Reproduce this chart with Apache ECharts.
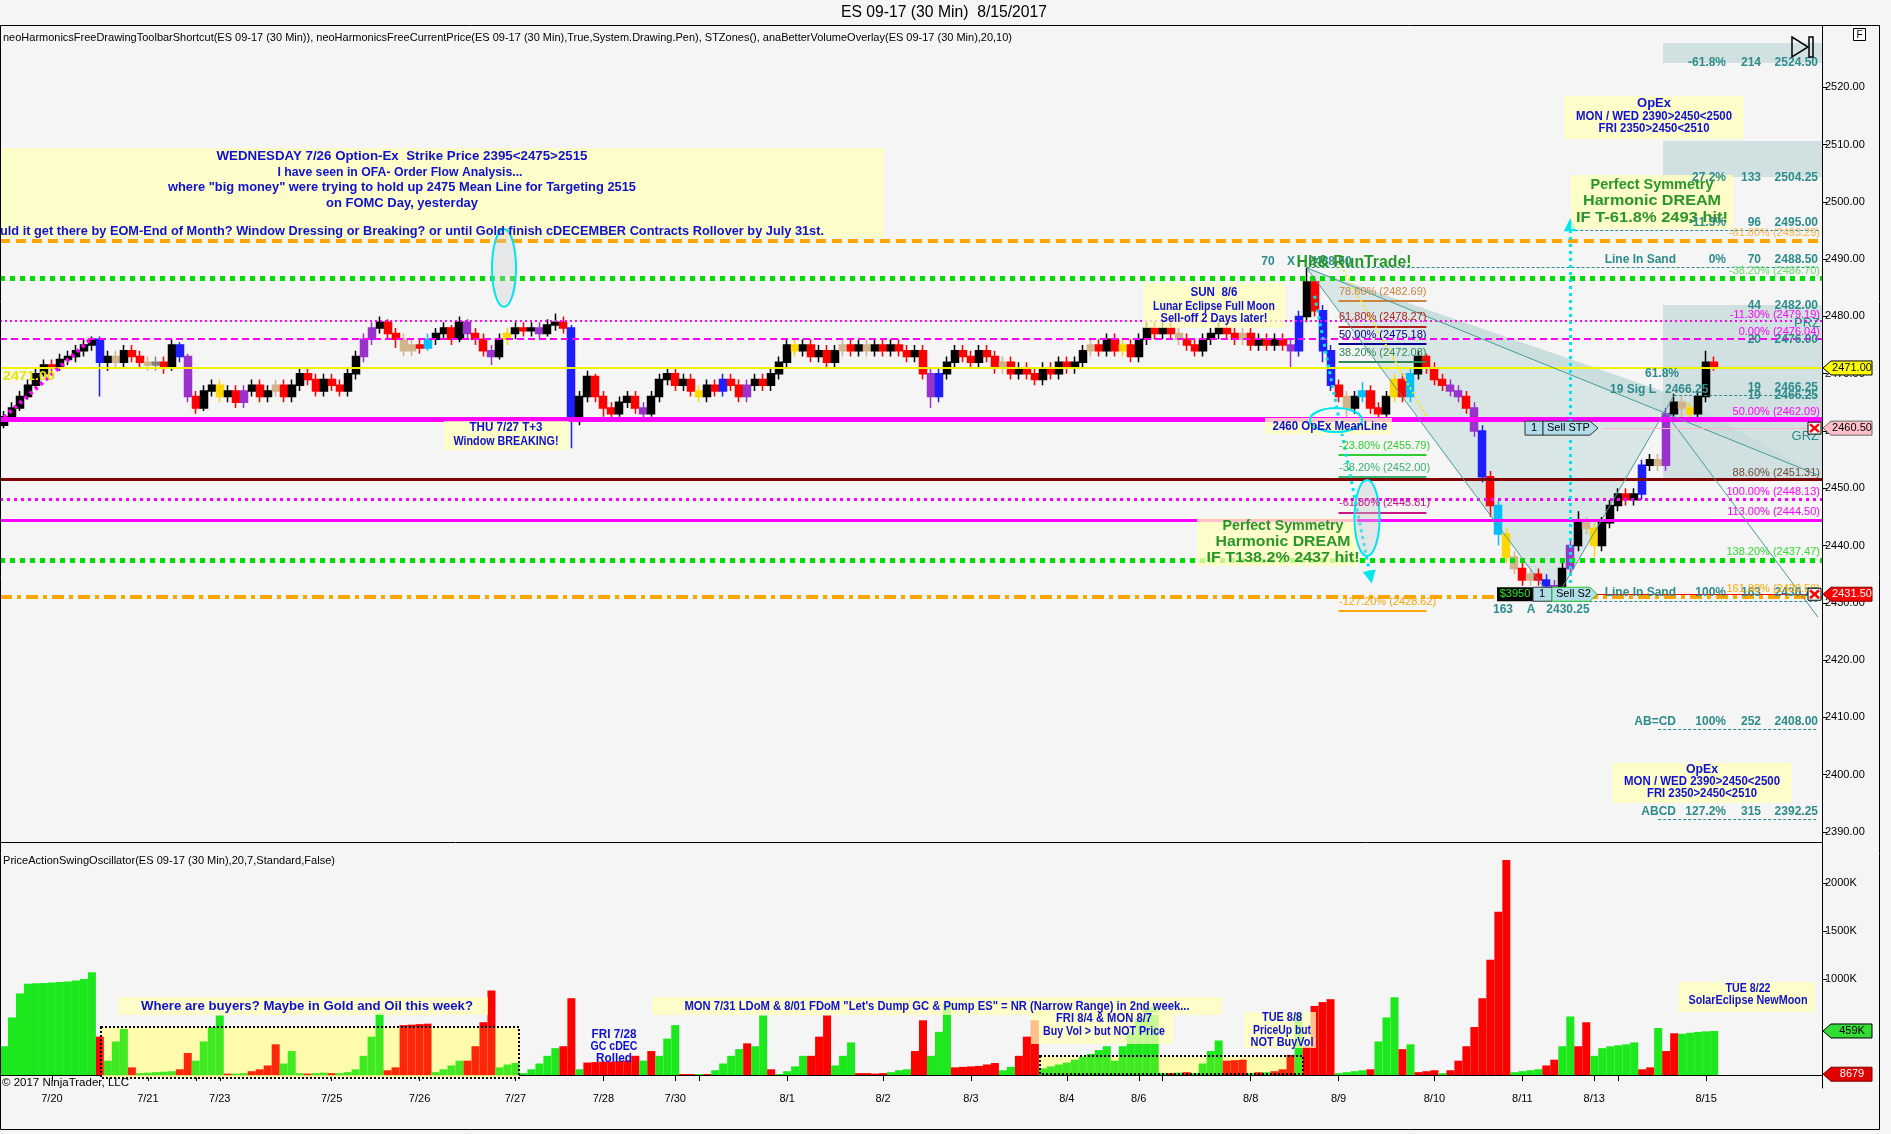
<!DOCTYPE html>
<html><head><meta charset="utf-8">
<script src="https://cdn.jsdelivr.net/npm/echarts@6/dist/echarts.min.js"></script>
<style>html,body{margin:0;padding:0;background:#F5F5F5;}#c{width:1891px;height:1134px;}</style>
</head><body><div id="c"></div>
<script>
// ---------------- DATA ----------------
const tickIdx    = [6,18,27,41,52,64,75,84,98,110,121,133,142,156,167,179,190,199,213];
const tickLabels = ['7/20','7/21','7/23','7/25','7/26','7/27','7/28','7/30','8/1','8/2','8/3','8/4','8/6','8/8','8/9','8/10','8/11','8/13','8/15'];
const extraTicks = [24,87,145,202];
const priceTicks = [2390,2400,2410,2420,2430,2440,2450,2460,2470,2480,2490,2500,2510,2520];
const oscTicks   = [1000,1500,2000];

// [open, close, low, high] per 2-hour block
const ohlc = [
[2461,2462.5,2460.5,2463.5],[2462.5,2464,2462,2465],[2464,2466,2463.5,2467],[2466,2468,2465.5,2469],[2468,2470,2467.5,2471],
[2470,2471.5,2469.5,2472.5],[2471.5,2471,2470,2472.5],[2471,2472.5,2470.5,2473.5],[2472.5,2473,2471.5,2474],[2473,2474,2472,2475],
[2474,2475,2473,2476],[2475,2476,2474,2476.5],[2476,2472,2466,2476.5],[2472,2473,2470.5,2474],[2473,2472,2471,2474],
[2472,2474,2471,2475],[2474,2473,2472,2475],[2473,2472,2471,2474],[2472,2471.5,2470.5,2473],[2471.5,2472,2470.5,2473],
[2472,2471,2470,2473],[2471,2475,2470.5,2476],[2475,2473,2472,2475.5],[2473,2466,2465,2473.5],[2466,2464,2463,2467],
[2464,2467,2463.5,2468],[2467,2468,2466,2469],[2468,2466,2465,2469],[2466,2467,2465,2468],[2467,2465,2464,2468],
[2465,2467,2464,2468],[2467,2468,2466,2469],[2468,2466,2465,2469],[2466,2467,2465,2468],[2467,2468,2466,2469],
[2468,2466,2465,2469],[2466,2468,2465,2469],[2468,2470,2467,2471],[2470,2469,2468,2471],[2469,2467,2466,2470],
[2467,2469,2466,2470],[2469,2468,2467,2470],[2468,2467,2466,2469],[2467,2470,2466,2471],[2470,2473,2469,2474],
[2473,2476,2472,2477],[2476,2478,2475,2479],[2478,2479,2477,2480],[2479,2477,2476,2479.5],[2477,2476,2474.5,2478],
[2476,2474,2473,2477],[2474,2475,2473,2476],[2475,2474.5,2473.5,2476],[2474.5,2476,2474,2477],[2476,2477,2475,2478],
[2477,2478,2476,2479],[2478,2476,2475,2478.5],[2476,2479,2475.5,2480],[2479,2477,2476,2479.5],[2477,2476,2475,2478],
[2476,2474,2473,2477],[2474,2473,2471.5,2475],[2473,2476,2472.5,2477],[2476,2477,2475,2478],[2477,2478,2476,2479],
[2478,2477.5,2476.5,2479],[2477.5,2478,2476.5,2479],[2478,2477,2476,2479],[2477,2478.5,2476.5,2479.5],[2478.5,2479,2477.5,2480.5],
[2479,2478,2477,2480],[2478,2462,2457,2478.5],[2462,2466,2461,2467],[2466,2469.5,2465,2470.5],[2469.5,2466,2465,2470],
[2466,2464,2462.5,2467],[2464,2463,2462,2465],[2463,2465,2462.5,2466],[2465,2466,2464,2467],[2466,2464,2463,2467],
[2464,2463,2462,2465],[2463,2466,2462.5,2467],[2466,2469,2465,2470],[2469,2470,2468,2471],[2470,2468,2467,2471],
[2468,2469,2467,2470],[2469,2467,2466,2470],[2467,2466,2465,2468],[2466,2468,2465,2469],[2468,2467,2466,2469],
[2467,2469,2466,2470],[2469,2468,2467,2470],[2468,2466,2465,2469],[2466,2468,2465,2469],[2468,2469,2467,2470],
[2469,2468,2467,2470],[2468,2470,2467,2471],[2470,2472,2469,2473],[2472,2475,2471,2476],[2475,2474,2473,2476],
[2474,2475,2473,2476],[2475,2473,2472,2476],[2473,2474,2472,2475],[2474,2472,2471,2475],[2472,2474,2471,2475],
[2474,2475,2473,2476],[2475,2474,2473,2476],[2474,2475,2473,2476],[2475,2474,2473,2476],[2474,2475,2473,2476],
[2475,2474,2473,2476],[2474,2475,2473,2476],[2475,2474,2473,2476],[2474,2473,2472,2475],[2473,2474,2472,2475],
[2474,2470,2469,2475],[2470,2466,2464,2471],[2466,2470,2465,2471],[2470,2472,2469,2473],[2472,2474,2471,2475],
[2474,2473,2472,2475],[2473,2472,2471,2474],[2472,2474,2471,2475],[2474,2473,2472,2475],[2473,2471,2470,2474],
[2471,2472,2470,2473],[2472,2470,2469,2473],[2470,2471,2469,2472],[2471,2470,2469,2472],[2470,2469,2468,2471],
[2469,2471,2468,2472],[2471,2470,2469,2472],[2470,2472,2469,2473],[2472,2471,2470,2473],[2471,2472,2470,2473],
[2472,2474,2471,2475],[2474,2475,2473,2476],[2475,2474,2473,2476],[2474,2476,2473,2477],[2476,2474,2473,2477],
[2474,2475,2473,2476],[2475,2473,2472,2476],[2473,2476,2472,2477],[2476,2478,2475,2479],[2478,2477,2476,2479],
[2477,2478,2476,2479],[2478,2477,2476,2479],[2477,2476,2475,2478],[2476,2475,2474,2477],[2475,2474,2473,2476],
[2474,2476,2473,2477],[2476,2477,2475,2478],[2477,2478,2476,2479],[2478,2477,2476,2479],[2477,2476,2475,2478],
[2476,2477,2475,2478],[2477,2475,2474,2478],[2475,2476,2474,2477],[2476,2475,2474,2477],[2475,2476,2474,2477],
[2476,2475,2474,2477],[2475,2474,2471,2476],[2474,2480,2473,2481],[2480,2486,2479,2488.5],[2486,2481,2480,2487],
[2481,2474,2472,2482],[2474,2468,2467,2475],[2468,2466,2465,2469],[2466,2464,2462.5,2467],[2464,2466,2463,2467],
[2466,2467,2465,2468.5],[2467,2464,2463,2468],[2464,2463,2462,2465],[2463,2466,2462.5,2467],[2466,2469,2465,2470],
[2469,2466,2465,2470],[2466,2470,2465,2471],[2470,2473,2469,2474],[2473,2471,2470,2473.5],[2471,2469,2468,2472],
[2469,2468,2467,2470],[2468,2467,2466,2469],[2467,2466,2465,2468],[2466,2464,2463,2467],[2464,2460,2459,2465],
[2460,2452,2451,2461],[2452,2447,2445,2453],[2447,2442,2440,2448],[2442,2438,2437,2443],[2438,2436,2435,2439],
[2436,2434,2433,2437],[2434,2435,2433,2436],[2435,2434,2433,2436],[2434,2433,2432,2435],[2433,2431,2430.25,2434],
[2431,2436,2430.5,2437],[2436,2440,2435,2441],[2440,2444,2439,2446],[2444,2443,2442,2445],[2443,2440,2438,2444],
[2440,2444,2439,2445],[2444,2447,2443,2448],[2447,2449,2446,2450],[2449,2448,2447,2450],[2448,2449,2447,2450],
[2449,2454,2448,2455],[2454,2455,2453,2456],[2455,2454,2453,2456],[2454,2463,2453,2464],[2463,2465,2462,2466.5],
[2465,2464,2462,2466],[2464,2463,2462,2465],[2463,2466,2462,2467],[2466,2472,2465,2474],[2472,2471,2470.5,2473]
];
// bar colour classes (anaBetterVolume) that differ from plain up/down
const barClass = {12:'b',14:'t',18:'t',19:'g',22:'b',23:'p',27:'y',30:'p',34:'t',45:'p',46:'p',50:'t',51:'t',53:'c',58:'p',61:'p',63:'y',67:'p',71:'b',80:'p',87:'y',90:'b',93:'p',99:'y',105:'t',108:'t',116:'p',117:'b',125:'t',136:'t',140:'y',147:'t',155:'t',161:'p',162:'b',165:'b',166:'b',168:'t',170:'c',174:'y',176:'c',181:'p',182:'p',184:'p',185:'b',187:'c',188:'y',189:'t',191:'t',193:'b',194:'p',196:'p',198:'t',199:'y',205:'b',207:'t',208:'p',210:'t',211:'y'};

// Price action swing oscillator (K)
const oscVals = [
300,600,850,950,955,960,965,970,975,985,
1000,1070,400,150,350,480,80,20,25,30,
35,40,60,230,150,350,500,620,15,15,
20,40,60,100,320,120,250,20,15,20,
25,20,20,30,60,200,400,640,50,80,
520,525,530,535,30,60,100,150,150,300,
550,880,80,110,125,20,60,120,200,280,
300,800,60,130,135,140,140,145,150,200,
150,250,200,380,520,10,10,10,10,50,
120,200,270,330,300,620,60,10,40,90,
200,200,400,620,100,200,340,20,20,15,
20,30,50,60,250,570,200,450,750,80,
85,90,95,110,125,50,85,200,400,570,
70,90,110,130,160,190,220,260,300,150,
300,450,600,700,710,20,20,25,30,20,
120,250,360,150,155,160,20,30,30,40,
60,210,650,300,720,760,790,20,30,40,
50,60,350,600,810,270,320,30,40,50,
20,50,150,300,500,800,1200,1700,2240,30,
40,50,60,100,160,300,610,300,550,200,
280,300,310,320,340,60,80,490,250,435,
430,440,450,455,459];
const oscDir = "gggggggggg"+"ggrgggrggg"+"ggrrggggrg"+"grrrrgggrg"+"grggggggrr"+"rrrrggggrr"+"rrgggggggg"+"rrgrrrrrrr"+"grgggrrgrg"+"gggrggrggg"+"grrrgggrrr"+"rgggrrgggr"+"rrrrrggrrr"+"gggggggggg"+"ggggggrgrg"+"gggrrrgrgr"+"rrgrrrrggg"+"grgggrgrrr"+"grrrrrrrrg"+"gggrrggrrg"+"gggggrrgrr"+"ggggg";

// horizontal levels
const levelPrices = [2493.29, 2486.70, 2479.19, 2476.04, 2471.00, 2462.09, 2451.50, 2448.13, 2444.50, 2437.47, 2431.00];
const sandPrices  = [2495.00, 2488.50, 2466.25, 2430.25, 2408.00, 2392.25];
const sandStart   = [196, 163, 209, 194, 207, 207];
const fibPrices   = [2482.69, 2478.27, 2475.18, 2472.08, 2455.79, 2452.00, 2445.81, 2428.62];
const fibLabels   = ['78.60% (2482.69)','61.80% (2478.27)','50.00% (2475.18)','38.20% (2472.08)','-23.80% (2455.79)','-38.20% (2452.00)','-61.80% (2445.81)','-127.20% (2428.62)'];
// harmonic pattern points [index, price]
const ptX = [163, 2488.5], ptA = [194, 2430.25], ptB = [209, 2466.25], ptP = [227, 2452.3], ptQ = [227, 2427.5];
const lastPrice = 2471.00, stopPrice = 2460.50, targetPrice = 2431.50;
const oscLast = 459, oscLast2 = 8.679;

// ---------------- STYLE ----------------
const FAM = '"Liberation Sans", Arial, sans-serif';
const BLUE = '#1010D0', TEAL = '#2E8B8B', GREEN_T = '#2A962A', MAG = '#FF00FF';
const YBOX = 'rgba(255,255,185,0.75)';
const palette = {r:'#FF0000', k:'#000000', b:'#1E1EFF', p:'#9933CC', t:'#D2B48C', g:'#808080', y:'#FFD700', c:'#00BFFF'};
const levelStyles = [
 {color:'#FFA500', width:4, type:[10,6]},
 {color:'#00DD00', width:5, type:[5,5]},
 {color:MAG, width:2, type:[2,3]},
 {color:MAG, width:2, type:[7,4]},
 {color:'#F2F200', width:2, type:'solid'},
 {color:MAG, width:5, type:'solid'},
 {color:'#800000', width:3, type:'solid'},
 {color:MAG, width:3, type:[3,4]},
 {color:MAG, width:3, type:'solid'},
 {color:'#00DD00', width:5, type:[5,5]},
 {color:'#FFA500', width:4, type:[12,5,4,5]}
];
const fibColors = ['#CD853F','#B22222','#00008B','#2E8B57','#32CD32','#3CB371','#C71585','#FFA500'];

const N = 228;
const cats = Array.from({length:N}, (_, i) => String(i));
const labelMap = {}; tickIdx.forEach((k, j) => labelMap[k] = tickLabels[j]);
const tickSet = new Set(tickIdx.concat(extraTicks));

const candleData = ohlc.map((r, i) => {
  const c = barClass[i] ? palette[barClass[i]] : (r[1] < r[0] ? palette.r : palette.k);
  return {value: r, itemStyle: {color: c, color0: c, borderColor: c, borderColor0: c, borderWidth: 1.5}};
});
const oscData = oscVals.map((v, i) => ({value: v, itemStyle: {color: oscDir[i] === 'g' ? '#1DE81D' : '#FF0000'}}));

const ml = [];
levelPrices.forEach((p, i) => ml.push({yAxis: p, lineStyle: levelStyles[i]}));
sandPrices.forEach((p, i) => ml.push([{coord: [sandStart[i], p], lineStyle: {color: TEAL, width: 1, type: [3, 2]}}, {coord: [227, p]}]));
fibPrices.forEach((p, i) => ml.push([{coord: [167, p], lineStyle: {color: fibColors[i], width: 2, type: 'solid'}}, {coord: [178, p]}]));
const seg = (a, b, st, sym) => ml.push([{coord: a, lineStyle: st, symbol: 'none'}, {coord: b, symbol: sym || 'none', symbolSize: 13}]);
seg(ptX, ptA, {color: '#4A9A9A', width: 1, type: 'solid'});
seg(ptA, ptB, {color: '#4A9A9A', width: 1, type: 'solid'});
seg(ptX, ptP, {color: '#4A9A9A', width: 1, type: 'solid'});
seg([208, 2463], ptQ, {color: '#4A9A9A', width: 1, type: 'solid'});
seg([0, 2462.4], [11, 2476.2], {color: MAG, width: 4, type: [3, 4]});
seg([167, 2489.6], [178, 2462.5], {color: '#FFE800', width: 2, type: [2, 3]});
seg([164, 2483.6], [171, 2434.5], {color: '#00E5EE', width: 3, type: [3, 4]}, 'triangle');
seg([196, 2431], [196, 2496], {color: '#00E5EE', width: 3, type: [3, 4]}, 'triangle');
seg([198, targetPrice], [227, targetPrice], {color: '#FF0000', width: 1, type: 'solid'});
seg([200, stopPrice], [227, stopPrice], {color: '#FFB6C1', width: 1, type: 'solid'});

const option = {
  animation: false,
  backgroundColor: '#F5F5F5',
  textStyle: {fontFamily: FAM},
  grid: [
    {left: 0, top: 26, width: 1822, height: 816, outerBoundsMode: 'none'},
    {left: 0, top: 843, width: 1822, height: 245, outerBoundsMode: 'none'}
  ],
  xAxis: [
    {type: 'category', gridIndex: 0, data: cats, boundaryGap: true, show: false},
    {type: 'category', gridIndex: 1, data: cats, boundaryGap: true,
     axisLine: {show: true, lineStyle: {color: '#000'}},
     axisTick: {show: true, alignWithLabel: true, interval: (i) => tickSet.has(i), length: 6, lineStyle: {color: '#000'}},
     axisLabel: {interval: (i) => labelMap[i] !== undefined, formatter: (v, i) => labelMap[i] || '', color: '#000', fontSize: 11, fontFamily: FAM, margin: 5},
     splitLine: {show: false}}
  ],
  yAxis: [
    {type: 'value', gridIndex: 0, position: 'right', min: 2388.25, max: 2530.7, scale: true,
     axisLine: {show: true, lineStyle: {color: '#000'}},
     axisTick: {show: true, customValues: priceTicks, length: 5, lineStyle: {color: '#000'}},
     axisLabel: {customValues: priceTicks, formatter: (v) => v.toFixed(2), color: '#000', fontSize: 11, fontFamily: FAM, margin: 3},
     splitLine: {show: false}},
    {type: 'value', gridIndex: 1, position: 'right', min: -135, max: 2417,
     axisLine: {show: true, lineStyle: {color: '#000'}},
     axisTick: {show: true, customValues: oscTicks, length: 5, lineStyle: {color: '#000'}},
     axisLabel: {customValues: oscTicks, formatter: (v) => v + 'K', color: '#000', fontSize: 11, fontFamily: FAM, margin: 3},
     splitLine: {show: false}}
  ],
  series: [
    {type: 'candlestick', xAxisIndex: 0, yAxisIndex: 0, barWidth: '94%', data: candleData, z: 3,
     markLine: {silent: true, symbol: ['none', 'none'], label: {show: false}, animation: false, data: ml}},
    {type: 'bar', xAxisIndex: 1, yAxisIndex: 1, barCategoryGap: '0%', barGap: '0%', data: oscData, z: 3}
  ]
};

const chart = echarts.init(document.getElementById('c'), null, {renderer: 'canvas', width: 1891, height: 1134});
chart.setOption(option);

// ---------------- ANNOTATIONS ----------------
const mctx = document.createElement('canvas').getContext('2d');
function txt(str, x, y, o) {
  o = o || {};
  const size = o.size || 11, weight = o.weight || 'normal';
  const font = weight + ' ' + size + 'px ' + FAM;
  let sx = 1;
  if (o.w) { mctx.font = font; sx = o.w / mctx.measureText(str).width; }
  return {type: 'text', x: x, y: y, scaleX: sx, z: o.z || 110, silent: true,
          style: {text: str, font: font, fill: o.color || '#000', align: o.align || 'left', verticalAlign: 'middle'}};
}
function box(x, y, w, h, fill, extra) {
  return Object.assign({type: 'rect', z: 105, silent: true, shape: {x: x, y: y, width: w, height: h}, style: {fill: fill}}, extra || {});
}
const P = (pt) => chart.convertToPixel({gridIndex: 0}, pt);
const py = (p) => chart.convertToPixel({yAxisIndex: 0}, p);
const py2 = (v) => chart.convertToPixel({yAxisIndex: 1}, v);

const G = [];
// frame
G.push({type: 'rect', z: 120, silent: true, shape: {x: 0.5, y: 25.5, width: 1879, height: 1104}, style: {fill: 'none', stroke: '#000', lineWidth: 1}});
G.push({type: 'line', z: 120, silent: true, shape: {x1: 0, y1: 842.5, x2: 1822, y2: 842.5}, style: {stroke: '#000', lineWidth: 1}});
// title and indicator captions
G.push(txt('ES 09-17 (30 Min)  8/15/2017', 944, 13, {size: 16, w: 206, align: 'center'}));
G.push(txt('neoHarmonicsFreeDrawingToolbarShortcut(ES 09-17 (30 Min)), neoHarmonicsFreeCurrentPrice(ES 09-17 (30 Min),True,System.Drawing.Pen), STZones(), anaBetterVolumeOverlay(ES 09-17 (30 Min),20,10)', 3, 38, {size: 11, w: 1009}));
G.push(txt('PriceActionSwingOscillator(ES 09-17 (30 Min),20,7,Standard,False)', 3, 861, {size: 11, w: 332}));
G.push(txt('\u00A9 2017 NinjaTrader, LLC', 2, 1083, {size: 11, w: 127}));

// pattern shading & zone boxes (behind bars)
G.push({type: 'polygon', z: 1, silent: true, shape: {points: [P(ptX), P(ptA), P(ptB)]}, style: {fill: 'rgba(160,200,200,0.32)'}});
G.push({type: 'polygon', z: 1, silent: true, shape: {points: [P(ptX), P(ptB), P(ptP)]}, style: {fill: 'rgba(160,200,200,0.25)'}});
G.push(box(1663, 43, 159, 20, 'rgba(185,212,212,0.6)', {z: 1}));
G.push(box(1663, 141, 159, 36, 'rgba(185,212,212,0.6)', {z: 1}));
G.push(box(1663, py(2482), 159, py(2451.5) - py(2482), 'rgba(185,212,212,0.6)', {z: 1}));

// big top-left note
G.push(box(0, 148, 884, 90, YBOX));
G.push(txt('WEDNESDAY 7/26 Option-Ex  Strike Price 2395<2475>2515', 402, 156, {size: 13, weight: 'bold', color: BLUE, align: 'center', w: 371}));
G.push(txt('I have seen in OFA- Order Flow Analysis...', 400, 172, {size: 13, weight: 'bold', color: BLUE, align: 'center', w: 245}));
G.push(txt('where "big money" were trying to hold up 2475 Mean Line for Targeting 2515', 402, 187, {size: 13, weight: 'bold', color: BLUE, align: 'center', w: 468}));
G.push(txt('on FOMC Day, yesterday', 402, 203, {size: 13, weight: 'bold', color: BLUE, align: 'center', w: 152}));
G.push(txt('uld it get there by EOM-End of Month? Window Dressing or Breaking? or until Gold finish cDECEMBER Contracts Rollover by July 31st.', 0, 231, {size: 13, weight: 'bold', color: BLUE, w: 824}));
G.push({type: 'ellipse', z: 108, silent: true, shape: {cx: 504, cy: 268, rx: 12, ry: 39}, style: {fill: 'rgba(200,205,210,0.35)', stroke: '#00E5EE', lineWidth: 2}});

G.push(txt('2471.00', 3, 377, {size: 12, weight: 'bold', color: '#E6E600', w: 52}));
G.push(box(444, 421, 125, 29, YBOX));
G.push(txt('THU 7/27 T+3', 506, 428, {size: 12, weight: 'bold', color: BLUE, align: 'center', w: 73}));
G.push(txt('Window BREAKING!', 506, 442, {size: 12, weight: 'bold', color: BLUE, align: 'center', w: 105}));

G.push(box(1143, 283, 142, 45, YBOX));
G.push(txt('SUN  8/6', 1214, 293, {size: 12, weight: 'bold', color: BLUE, align: 'center', w: 47}));
G.push(txt('Lunar Eclipse Full Moon', 1214, 307, {size: 12, weight: 'bold', color: BLUE, align: 'center', w: 122}));
G.push(txt('Sell-off 2 Days later!', 1214, 319, {size: 12, weight: 'bold', color: BLUE, align: 'center', w: 107}));
G.push(box(1265, 418, 127, 16, YBOX));
G.push(txt('2460 OpEx MeanLine', 1330, 426, {size: 13, weight: 'bold', color: BLUE, align: 'center', w: 115}));
G.push({type: 'ellipse', z: 108, silent: true, shape: {cx: 1336, cy: 420, rx: 26, ry: 12}, style: {fill: 'none', stroke: '#00E5EE', lineWidth: 2}});

G.push(txt('70', 1268, 262, {size: 12, weight: 'bold', color: TEAL, align: 'center'}));
G.push(txt('X', 1291, 262, {size: 12, weight: 'bold', color: TEAL, align: 'center'}));
G.push(txt('2488.50', 1330, 262, {size: 12, weight: 'bold', color: TEAL, align: 'center'}));
G.push(txt('Hit& RunTrade!', 1354, 263, {size: 16, weight: 'bold', color: GREEN_T, align: 'center', w: 115}));

fibPrices.forEach((p, i) => G.push(txt(fibLabels[i], 1339, py(p) - 9, {size: 11, color: fibColors[i]})));

G.push({type: 'ellipse', z: 108, silent: true, shape: {cx: 1367, cy: 518, rx: 12.5, ry: 38}, style: {fill: 'rgba(200,205,210,0.4)', stroke: '#00E5EE', lineWidth: 2}});
G.push(box(1197, 518, 160, 48, YBOX));
G.push(txt('Perfect Symmetry', 1283, 526, {size: 15, weight: 'bold', color: GREEN_T, align: 'center', w: 121}));
G.push(txt('Harmonic DREAM', 1283, 542, {size: 15, weight: 'bold', color: GREEN_T, align: 'center', w: 135}));
G.push(txt('IF T138.2% 2437 hit!', 1283, 558, {size: 15, weight: 'bold', color: GREEN_T, align: 'center', w: 153}));

G.push(box(1571, 175, 162, 54, YBOX));
G.push(txt('Perfect Symmetry', 1652, 185, {size: 15, weight: 'bold', color: GREEN_T, align: 'center', w: 123}));
G.push(txt('Harmonic DREAM', 1652, 201, {size: 15, weight: 'bold', color: GREEN_T, align: 'center', w: 138}));
G.push(txt('IF T-61.8% 2493 hit!', 1652, 218, {size: 15, weight: 'bold', color: GREEN_T, align: 'center', w: 152}));

G.push(box(1564, 96, 180, 43, YBOX));
G.push(txt('OpEx', 1654, 104, {size: 12, weight: 'bold', color: BLUE, align: 'center', w: 34}));
G.push(txt('MON / WED 2390>2450<2500', 1654, 117, {size: 12, weight: 'bold', color: BLUE, align: 'center', w: 156}));
G.push(txt('FRI 2350>2450<2510', 1654, 129, {size: 12, weight: 'bold', color: BLUE, align: 'center', w: 111}));
G.push(box(1612, 763, 180, 40, YBOX));
G.push(txt('OpEx', 1702, 770, {size: 12, weight: 'bold', color: BLUE, align: 'center', w: 32}));
G.push(txt('MON / WED 2390>2450<2500', 1702, 782, {size: 12, weight: 'bold', color: BLUE, align: 'center', w: 156}));
G.push(txt('FRI 2350>2450<2510', 1702, 794, {size: 12, weight: 'bold', color: BLUE, align: 'center', w: 110}));

// right-hand harmonic table
const rows = [
  [63, '', '-61.8%', '214', '2524.50'],
  [178, '', '27.2%', '133', '2504.25'],
  [223, '', '-11.3%', '96', '2495.00'],
  [260, 'Line In Sand', '0%', '70', '2488.50'],
  [306, '', '', '44', '2482.00'],
  [340, '', '', '20', '2476.00'],
  [388, '', '', '19', '2466.25'],
  [396, '', '', '19', '2466.25'],
  [593, 'Line In Sand', '100%', '163', '2430.25'],
  [722, 'AB=CD', '100%', '252', '2408.00'],
  [812, 'ABCD', '127.2%', '315', '2392.25']
];
const colR = [1676, 1726, 1761, 1818];
rows.forEach(r => { for (let k = 1; k <= 4; k++) if (r[k]) G.push(txt(r[k], colR[k - 1], r[0], {size: 12, weight: 'bold', color: TEAL, align: 'right'})); });
const small = [
  [233, '-61.80% (2493.29)', '#FFB347'], [271, '-38.20% (2486.70)', '#66DD66'], [315, '-11.30% (2479.19)', MAG],
  [332, '0.00% (2476.04)', MAG], [412, '50.00% (2462.09)', MAG], [473, '88.60% (2451.31)', '#6E4B3A'],
  [492, '100.00% (2448.13)', MAG], [512, '113.00% (2444.50)', MAG], [552, '138.20% (2437.47)', '#33DD33'],
  [589, '161.80% (2430.56)', '#FFA500']
];
small.forEach(s => G.push(txt(s[1], 1820, s[0], {size: 11, color: s[2], align: 'right'})));
G.push(txt('PRZ', 1820, 323, {size: 13, color: TEAL, align: 'right'}));
G.push(txt('GRZ', 1819, 436, {size: 13, color: TEAL, align: 'right'}));
G.push(txt('61.8%', 1662, 374, {size: 12, weight: 'bold', color: TEAL, align: 'center'}));
G.push(txt('19 Sig L', 1656, 390, {size: 12, weight: 'bold', color: TEAL, align: 'right'}));
G.push(txt('2466.25', 1665, 390, {size: 12, weight: 'bold', color: TEAL}));
G.push(txt('163', 1503, 610, {size: 12, weight: 'bold', color: TEAL, align: 'center'}));
G.push(txt('A', 1531, 610, {size: 12, weight: 'bold', color: TEAL, align: 'center'}));
G.push(txt('2430.25', 1568, 610, {size: 12, weight: 'bold', color: TEAL, align: 'center'}));

// order tags
const ys = py(stopPrice), yt = py(targetPrice);
G.push(box(1525, ys - 7, 18, 14, '#B0DDE8', {style: {fill: '#B0DDE8', stroke: '#333', lineWidth: 1}}));
G.push({type: 'polygon', z: 105, silent: true, shape: {points: [[1543, ys - 7], [1590, ys - 7], [1598, ys], [1590, ys + 7], [1543, ys + 7]]}, style: {fill: '#B0DDE8', stroke: '#333', lineWidth: 1}});
G.push(txt('1', 1534, ys, {size: 11, align: 'center'}));
G.push(txt('Sell STP', 1547, ys, {size: 11}));
G.push(box(1497, yt - 7, 36, 14, '#000'));
G.push(txt('$3950', 1515, yt, {size: 11, color: '#22EE22', align: 'center'}));
G.push(box(1533, yt - 7, 19, 14, '#B0DDE8', {style: {fill: '#B0DDE8', stroke: '#333', lineWidth: 1}}));
G.push({type: 'polygon', z: 105, silent: true, shape: {points: [[1552, yt - 7], [1590, yt - 7], [1597, yt], [1590, yt + 7], [1552, yt + 7]]}, style: {fill: '#B0DDE8', stroke: '#22CC22', lineWidth: 1}});
G.push(txt('1', 1542, yt, {size: 11, align: 'center'}));
G.push(txt('Sell S2', 1556, yt, {size: 11}));

// price axis tags
function tag(y, text, fill, tcol, stroke) {
  G.push({type: 'polygon', z: 115, silent: true, shape: {points: [[1823, y], [1831, y - 7], [1872, y - 7], [1872, y + 7], [1831, y + 7]]}, style: {fill: fill, stroke: stroke || '#000', lineWidth: 1}});
  G.push(txt(text, 1852, y, {size: 11, color: tcol, align: 'center', z: 116}));
}
function xbox(y) {
  G.push({type: 'rect', z: 115, silent: true, shape: {x: 1808, y: y - 6, width: 13, height: 12}, style: {fill: '#fff', stroke: '#000', lineWidth: 1}});
  G.push({type: 'line', z: 116, silent: true, shape: {x1: 1810, y1: y - 4, x2: 1819, y2: y + 4}, style: {stroke: '#FF0000', lineWidth: 2.5}});
  G.push({type: 'line', z: 116, silent: true, shape: {x1: 1819, y1: y - 4, x2: 1810, y2: y + 4}, style: {stroke: '#FF0000', lineWidth: 2.5}});
}
tag(py(lastPrice), lastPrice.toFixed(2), '#FFFF00', '#000');
tag(ys, stopPrice.toFixed(2), '#FFC0CB', '#000', '#666');
tag(yt, targetPrice.toFixed(2), '#FF0000', '#fff', '#800000');
xbox(ys); xbox(yt);
tag(py2(oscLast), oscLast + 'K', '#33DD33', '#000');
tag(py2(oscLast2), '8679', '#E00000', '#fff', '#800000');

// top-right icons
G.push({type: 'polygon', z: 115, silent: true, shape: {points: [[1792, 37], [1808, 47], [1792, 57]]}, style: {fill: 'none', stroke: '#000', lineWidth: 1.5}});
G.push({type: 'rect', z: 115, silent: true, shape: {x: 1809, y: 37, width: 4, height: 20}, style: {fill: 'none', stroke: '#000', lineWidth: 1.5}});
G.push({type: 'rect', z: 115, silent: true, shape: {x: 1853.5, y: 28.5, width: 12, height: 12}, style: {fill: '#fff', stroke: '#000', lineWidth: 1}});
G.push(txt('F', 1859.5, 35, {size: 10, align: 'center', z: 116}));

// lower panel notes: pale yellow behind bars, light tint + dotted frame on top
G.push(box(101, 1027, 418, 51, 'rgba(255,255,185,0.85)', {z: 1}));
G.push(box(1040, 1056, 263, 18, 'rgba(255,255,185,0.85)', {z: 1}));
const DOT = 'rgba(255,240,60,0.16)';
G.push(box(101, 1027, 418, 51, DOT, {style: {fill: DOT, stroke: '#000', lineWidth: 2, lineDash: [2, 2]}}));
G.push(box(1040, 1056, 263, 18, DOT, {style: {fill: DOT, stroke: '#000', lineWidth: 2, lineDash: [2, 2]}}));
G.push(box(118, 997, 370, 18, YBOX));
G.push(txt('Where are buyers? Maybe in Gold and Oil this week?', 307, 1006, {size: 13, weight: 'bold', color: BLUE, align: 'center', w: 332}));
G.push(txt('FRI 7/28', 614, 1035, {size: 12, weight: 'bold', color: BLUE, align: 'center', w: 45}));
G.push(txt('GC cDEC', 614, 1047, {size: 12, weight: 'bold', color: BLUE, align: 'center', w: 47}));
G.push(txt('Rolled', 614, 1059, {size: 12, weight: 'bold', color: BLUE, align: 'center', w: 36}));
G.push(box(652, 997, 570, 18, YBOX));
G.push(txt('MON 7/31 LDoM & 8/01 FDoM "Let\'s Dump GC & Pump ES" = NR (Narrow Range) in 2nd week...', 937, 1006, {size: 13, weight: 'bold', color: BLUE, align: 'center', w: 505}));
G.push(box(1031, 1012, 142, 32, YBOX));
G.push(txt('FRI 8/4 & MON 8/7', 1104, 1019, {size: 12, weight: 'bold', color: BLUE, align: 'center', w: 96}));
G.push(txt('Buy Vol > but NOT Price', 1104, 1032, {size: 12, weight: 'bold', color: BLUE, align: 'center', w: 122}));
G.push(box(1244, 1012, 72, 36, YBOX));
G.push(txt('TUE 8/8', 1282, 1018, {size: 12, weight: 'bold', color: BLUE, align: 'center', w: 40}));
G.push(txt('PriceUp but', 1282, 1031, {size: 12, weight: 'bold', color: BLUE, align: 'center', w: 58}));
G.push(txt('NOT BuyVol', 1282, 1043, {size: 12, weight: 'bold', color: BLUE, align: 'center', w: 63}));
G.push(box(1678, 982, 137, 30, YBOX));
G.push(txt('TUE 8/22', 1748, 989, {size: 12, weight: 'bold', color: BLUE, align: 'center', w: 45}));
G.push(txt('SolarEclipse NewMoon', 1748, 1001, {size: 12, weight: 'bold', color: BLUE, align: 'center', w: 119}));

chart.setOption({graphic: {elements: G}});
</script>
</body></html>
